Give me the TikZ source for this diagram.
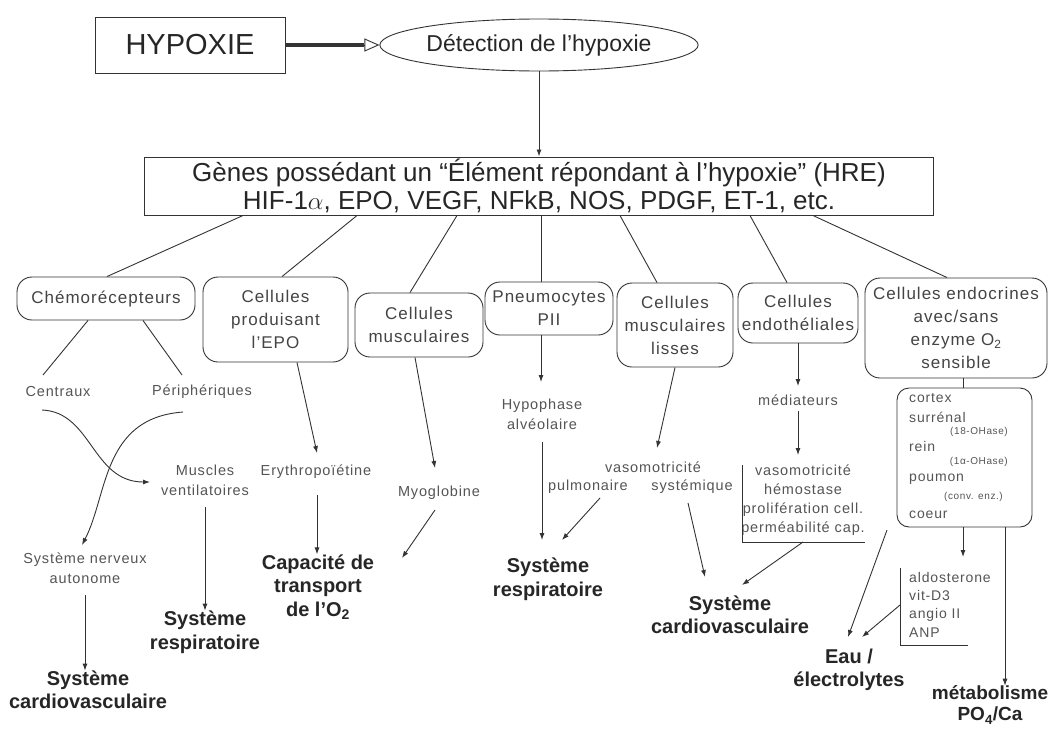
\documentclass[tikz,border=0pt]{standalone}
\usepackage{fontspec}
\setmainfont{Liberation Sans}
\newfontfamily\catf[LetterSpace=6]{Liberation Sans}
\usetikzlibrary{arrows.meta,shapes.geometric,calc}
\definecolor{ink}{HTML}{333333}
\definecolor{txt}{HTML}{444444}
\definecolor{ltxt}{HTML}{555555}
\begin{document}
\begin{tikzpicture}[x=1pt,y=-1pt,
  cat/.style={draw=ink, line width=0.9pt, rounded corners=15pt, align=center, inner sep=0pt, text=txt, font=\catf\fontsize{17}{23}\selectfont},
  sm/.style={align=center, text=ltxt, inner sep=0pt, font=\catf\fontsize{14.5}{20}\selectfont},
  tiny/.style={text=ltxt, inner sep=0pt, font=\catf\fontsize{10}{12}\selectfont},
  lst/.style={text=ltxt, inner sep=0pt, font=\catf\fontsize{14}{18.3}\selectfont},
  res/.style={align=center, text=black!85, inner sep=0pt, font=\bfseries\fontsize{20}{23.5}\selectfont},
  arr/.style={draw=ink, line width=0.9pt, -{Latex[length=7pt,width=5pt]}},
  ln/.style={draw=ink, line width=0.9pt}]
\useasboundingbox (0,0) rectangle (1048,728);
\fill[white] (0,0) rectangle (1048,728);

% top
\node[draw=ink, line width=1pt, minimum width=190pt, minimum height=56pt, inner sep=0pt, text=black!85, font=\fontsize{29}{32}\selectfont] (hyp) at (190,45) {HYPOXIE};
\node[draw=ink, line width=0.9pt, ellipse, minimum width=297pt, minimum height=52pt, inner sep=0pt, text=black!85, font=\fontsize{23}{26}\selectfont] (det) at (539,45) {Détection de l’hypoxie};
\coordinate (tb) at ($(det.west)+(-15,0)$);
\draw[ink, line width=3.5pt] (hyp.east) -- (tb);
\draw[ink, line width=0.9pt, -{Triangle[open,length=15pt,width=13pt]}] (tb) -- (det.west);

\node[draw=ink, line width=1pt, minimum width=789pt, minimum height=58pt, inner sep=0pt, align=center, text=black!85, font=\fontsize{26}{28}\selectfont] (genes) at (539,186)
  {Gènes possédant un “Élément répondant à l’hypoxie” (HRE)\\HIF-1\ensuremath{\alpha}, EPO, VEGF, NFkB, NOS, PDGF, ET-1, etc.};
\draw[arr] (det.south) -- (genes.north);

% categories
\node[cat, minimum width=178pt, minimum height=43pt] (chemo) at (106,298.5) {Chémorécepteurs};
\node[cat, minimum width=145pt, minimum height=85pt] (epo) at (275.5,319.5) {Cellules\\produisant\\l’EPO};
\node[cat, minimum width=128pt, minimum height=64pt] (musc) at (419,325) {Cellules\\musculaires};
\node[cat, minimum width=128pt, minimum height=53pt] (pneu) at (549,308.5) {Pneumocytes\\PII};
\node[cat, minimum width=116pt, minimum height=84pt] (lis) at (675,325) {Cellules\\musculaires\\lisses};
\node[cat, minimum width=120pt, minimum height=60pt] (endo) at (798,313) {Cellules\\endothéliales};
\node[cat, minimum width=182pt, minimum height=100pt] (endoc) at (956,328) {Cellules endocrines\\avec/sans\\enzyme O\textsubscript{2}\\sensible};

\draw[ln] (243,0 |- genes.south) -- (107,0 |- chemo.north);
\draw[ln] (357,0 |- genes.south) -- (282,0 |- epo.north);
\draw[ln] (457,0 |- genes.south) -- (410,0 |- musc.north);
\draw[ln] (541,0 |- genes.south) -- (541,0 |- pneu.north);
\draw[ln] (620,0 |- genes.south) -- (657,0 |- lis.north);
\draw[ln] (750,0 |- genes.south) -- (787,0 |- endo.north);
\draw[ln] (813,0 |- genes.south) -- (947,0 |- endoc.north);

% chemorecepteurs chain
\node[sm] (cen) at (58,392) {Centraux};
\node[sm] (per) at (202,392) {Périphériques};
\draw[ln] (88,0 |- chemo.south) -- (43,375);
\draw[ln] (143,0 |- chemo.south) -- (182,375);
\node[sm] (mv) at (205,480) {Muscles\\ventilatoires};
\node[sm] (sna) at (85,568) {Système nerveux\\autonome};
\coordinate (c1) at (42,410);
\coordinate (p1) at (183,412);
\coordinate (c2) at (150,482);
\coordinate (p2) at (82,545);
\draw[arr] (c1) .. controls (92,412) and (92,482) .. (c2);
\draw[arr] (p1) .. controls (102,418) and (108,495) .. (p2);
\node[res] (sr1) at (205,632) {Système\\respiratoire};
\node[res] (sc1) at (88,690) {Système\\cardiovasculaire};
\draw[arr] (205,507) -- (205,0 |- sr1.north);
\draw[arr] (85,595) -- (85,0 |- sc1.north);

% EPO chain
\node[sm] (ery) at (316,472) {Erythropoïétine};
\draw[arr] (297,0 |- epo.south) -- (317,453);
\node[res] (cap) at (318,587) {Capacité de\\transport\\de l’O\textsubscript{2}};
\draw[arr] (317,495) -- (317,0 |- cap.north);

% muscle chain
\node[sm] (myo) at (439,493) {Myoglobine};
\draw[arr] (415,0 |- musc.south) -- (435,468);
\draw[arr] (435,510) -- (402,558);

% pneumocytes chain
\node[sm] (hyph) at (542,414) {Hypophase\\alvéolaire};
\draw[arr] (541,0 |- pneu.south) -- (541,382);
\node[res] (sr2) at (548,579) {Système\\respiratoire};
\draw[arr] (542,442) -- (542,540);

% lisses chain
\node[sm] (vas) at (653,467) {vasomotricité};
\node[sm] (pul) at (588,487) {pulmonaire};
\node[sm] (sys) at (692,487) {systémique};
\draw[arr] (675,0 |- lis.south) -- (657,448);
\draw[arr] (600,498) -- (562,540);
\node[res] (sc2) at (730,615) {Système\\cardiovasculaire};
\draw[arr] (688,503) -- (705,577);

% endothelial chain
\node[sm] (med) at (798,400) {médiateurs};
\draw[arr] (endo.south) -- (798,386);
\draw[arr] (798,411) -- (798,455);
\node[sm, font=\catf\fontsize{14.5}{19}\selectfont] (eff) at (803,500.5) {vasomotricité\\hémostase\\prolifération cell.\\perméabilité cap.};
\draw[ln] (742,465) -- (742,542) -- (865,542);
\draw[arr] (803,542) -- (742,585);

% endocrine chain
\node[draw=ink, line width=0.9pt, rounded corners=12pt, minimum width=135pt, minimum height=139pt, inner sep=0pt] (lbox) at (964.5,457.5) {};
\draw[ln] (963,0 |- endoc.south) -- (963,0 |- lbox.north);
\node[lst, anchor=west] at (909,398) {cortex};
\node[lst, anchor=west] at (909,417) {surrénal};
\node[tiny, anchor=east] at (1008,432) {(18-OHase)};
\node[lst, anchor=west] at (909,446) {rein};
\node[tiny, anchor=east] at (1008,462) {(1α-OHase)};
\node[lst, anchor=west] at (909,479) {poumon};
\node[tiny, anchor=east] at (1003,497) {(conv. enz.)};
\node[lst, anchor=west] at (909,515) {coeur};

\node[lst, anchor=west, align=left] (hor) at (909,604.5) {aldosterone\\vit-D3\\angio II\\ANP};
\draw[ln] (900,568) -- (900,645) -- (968,645);
\draw[arr] (963,0 |- lbox.south) -- (963,557);

\node[res] (eau) at (849,670) {Eau /\\électrolytes};
\draw[arr] (900,605) -- (862,637);
\draw[arr] (887,530) -- (848,637);

\node[res, font=\bfseries\fontsize{19}{21}\selectfont] (met) at (990,705) {métabolisme\\PO\textsubscript{4}/Ca};
\draw[arr] (1005,0 |- lbox.south) -- (1005,0 |- met.north);
\end{tikzpicture}
\end{document}
